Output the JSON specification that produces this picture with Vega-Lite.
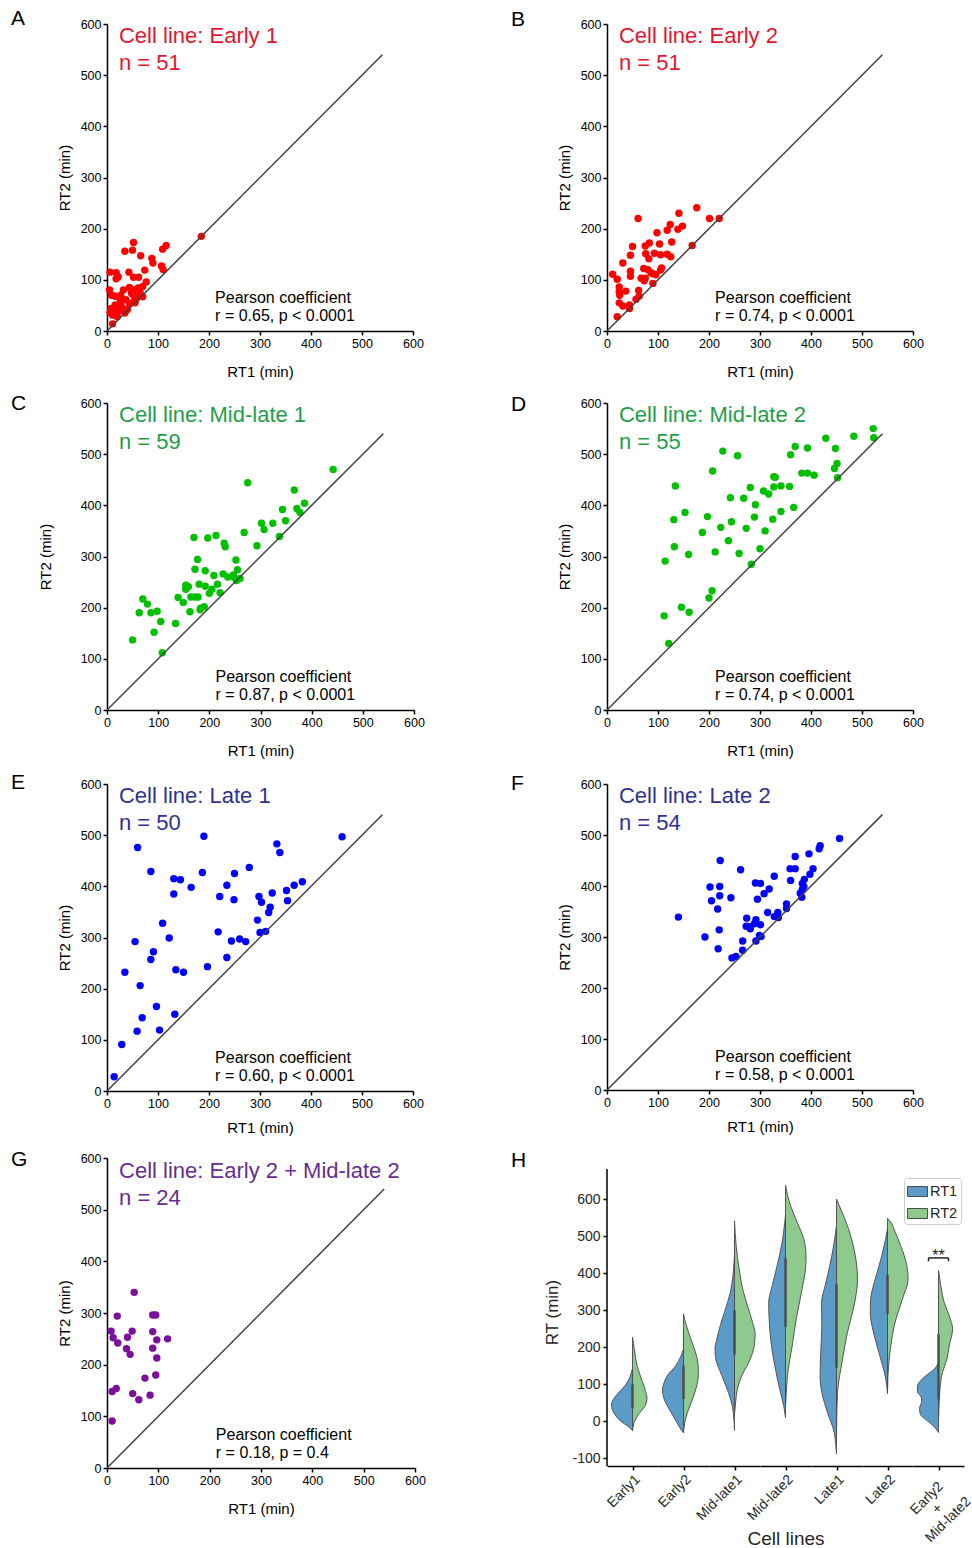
{
"$schema": "https://vega.github.io/schema/vega-lite/v6.json",
"padding": {"left": 11, "top": 8, "right": 0, "bottom": 0},
"background": "white",
"config": {
 "font": "Liberation Sans",
 "view": {"stroke": null},
 "axis": {"grid": false, "domainColor": "#000000", "domainWidth": 1.5, "tickColor": "#000000", "tickWidth": 1.5, "tickSize": 4, "labelFont": "Liberation Sans", "labelFontSize": 12.5, "labelColor": "#000000", "labelPadding": 2, "titleFont": "Liberation Sans", "titleFontSize": 15, "titleFontWeight": "normal", "titleColor": "#000000", "labelFlush": false, "labelOverlap": false},
 "title": {"font": "Liberation Sans", "fontWeight": "normal", "fontSize": 21, "color": "#000000", "anchor": "start", "frame": "group", "offset": 0, "baseline": "alphabetic"}
},
"datasets": {
 "A": [{"rt1":185,"rt2":185},{"rt1":52,"rt2":173},{"rt1":50,"rt2":158},{"rt1":35,"rt2":156},{"rt1":66,"rt2":147},{"rt1":116,"rt2":167},{"rt1":109,"rt2":160},{"rt1":88,"rt2":142},{"rt1":90,"rt2":133},{"rt1":107,"rt2":127},{"rt1":110,"rt2":120},{"rt1":74,"rt2":119},{"rt1":6,"rt2":115},{"rt1":18,"rt2":114},{"rt1":43,"rt2":115},{"rt1":18,"rt2":102},{"rt1":22,"rt2":106},{"rt1":52,"rt2":105},{"rt1":62,"rt2":105},{"rt1":77,"rt2":96},{"rt1":70,"rt2":87},{"rt1":44,"rt2":85},{"rt1":52,"rt2":80},{"rt1":65,"rt2":75},{"rt1":9,"rt2":70},{"rt1":16,"rt2":68},{"rt1":27,"rt2":70},{"rt1":52,"rt2":70},{"rt1":58,"rt2":64},{"rt1":70,"rt2":67},{"rt1":37,"rt2":61},{"rt1":44,"rt2":54},{"rt1":52,"rt2":57},{"rt1":16,"rt2":51},{"rt1":27,"rt2":51},{"rt1":31,"rt2":44},{"rt1":8,"rt2":44},{"rt1":18,"rt2":40},{"rt1":6,"rt2":36},{"rt1":11,"rt2":31},{"rt1":22,"rt2":38},{"rt1":35,"rt2":35},{"rt1":40,"rt2":42},{"rt1":55,"rt2":55},{"rt1":11,"rt2":14},{"rt1":26,"rt2":61},{"rt1":48,"rt2":74},{"rt1":61,"rt2":84},{"rt1":32,"rt2":80},{"rt1":5,"rt2":80},{"rt1":20,"rt2":28}],
 "B": [{"rt1":20,"rt2":28},{"rt1":11,"rt2":111},{"rt1":24,"rt2":86},{"rt1":24,"rt2":77},{"rt1":25,"rt2":70},{"rt1":24,"rt2":55},{"rt1":31,"rt2":49},{"rt1":44,"rt2":51},{"rt1":44,"rt2":44},{"rt1":57,"rt2":62},{"rt1":63,"rt2":68},{"rt1":62,"rt2":79},{"rt1":31,"rt2":133},{"rt1":46,"rt2":148},{"rt1":50,"rt2":165},{"rt1":46,"rt2":117},{"rt1":46,"rt2":107},{"rt1":61,"rt2":220},{"rt1":75,"rt2":166},{"rt1":83,"rt2":172},{"rt1":76,"rt2":151},{"rt1":82,"rt2":141},{"rt1":72,"rt2":122},{"rt1":80,"rt2":120},{"rt1":75,"rt2":103},{"rt1":73,"rt2":98},{"rt1":90,"rt2":112},{"rt1":96,"rt2":110},{"rt1":90,"rt2":93},{"rt1":93,"rt2":152},{"rt1":98,"rt2":192},{"rt1":103,"rt2":170},{"rt1":105,"rt2":149},{"rt1":105,"rt2":119},{"rt1":107,"rt2":123},{"rt1":118,"rt2":150},{"rt1":125,"rt2":145},{"rt1":127,"rt2":174},{"rt1":118,"rt2":197},{"rt1":124,"rt2":208},{"rt1":139,"rt2":199},{"rt1":148,"rt2":205},{"rt1":141,"rt2":230},{"rt1":176,"rt2":241},{"rt1":201,"rt2":220},{"rt1":220,"rt2":220},{"rt1":167,"rt2":167},{"rt1":37,"rt2":78},{"rt1":67,"rt2":103},{"rt1":86,"rt2":114},{"rt1":20,"rt2":101}],
 "C": [{"rt1":442,"rt2":470},{"rt1":275,"rt2":444},{"rt1":366,"rt2":430},{"rt1":386,"rt2":404},{"rt1":343,"rt2":392},{"rt1":371,"rt2":394},{"rt1":377,"rt2":386},{"rt1":349,"rt2":370},{"rt1":302,"rt2":365},{"rt1":324,"rt2":365},{"rt1":307,"rt2":353},{"rt1":268,"rt2":347},{"rt1":337,"rt2":339},{"rt1":293,"rt2":321},{"rt1":170,"rt2":337},{"rt1":197,"rt2":336},{"rt1":213,"rt2":341},{"rt1":229,"rt2":326},{"rt1":231,"rt2":319},{"rt1":252,"rt2":293},{"rt1":177,"rt2":294},{"rt1":172,"rt2":275},{"rt1":192,"rt2":272},{"rt1":209,"rt2":263},{"rt1":227,"rt2":266},{"rt1":236,"rt2":260},{"rt1":247,"rt2":260},{"rt1":255,"rt2":274},{"rt1":253,"rt2":253},{"rt1":180,"rt2":246},{"rt1":192,"rt2":242},{"rt1":216,"rt2":246},{"rt1":154,"rt2":244},{"rt1":154,"rt2":236},{"rt1":205,"rt2":236},{"rt1":200,"rt2":228},{"rt1":221,"rt2":229},{"rt1":139,"rt2":220},{"rt1":164,"rt2":221},{"rt1":172,"rt2":221},{"rt1":178,"rt2":221},{"rt1":149,"rt2":210},{"rt1":183,"rt2":199},{"rt1":190,"rt2":202},{"rt1":162,"rt2":192},{"rt1":70,"rt2":217},{"rt1":79,"rt2":207},{"rt1":63,"rt2":190},{"rt1":86,"rt2":190},{"rt1":98,"rt2":193},{"rt1":105,"rt2":173},{"rt1":134,"rt2":169},{"rt1":92,"rt2":152},{"rt1":50,"rt2":137},{"rt1":108,"rt2":112},{"rt1":182,"rt2":196},{"rt1":159,"rt2":241},{"rt1":260,"rt2":257},{"rt1":247,"rt2":264}],
 "D": [{"rt1":522,"rt2":550},{"rt1":523,"rt2":532},{"rt1":484,"rt2":535},{"rt1":429,"rt2":531},{"rt1":448,"rt2":511},{"rt1":369,"rt2":515},{"rt1":393,"rt2":512},{"rt1":360,"rt2":499},{"rt1":227,"rt2":506},{"rt1":256,"rt2":497},{"rt1":451,"rt2":482},{"rt1":446,"rt2":472},{"rt1":452,"rt2":454},{"rt1":382,"rt2":463},{"rt1":393,"rt2":463},{"rt1":406,"rt2":459},{"rt1":207,"rt2":467},{"rt1":327,"rt2":456},{"rt1":330,"rt2":455},{"rt1":327,"rt2":436},{"rt1":341,"rt2":438},{"rt1":358,"rt2":437},{"rt1":281,"rt2":435},{"rt1":307,"rt2":428},{"rt1":317,"rt2":422},{"rt1":242,"rt2":415},{"rt1":268,"rt2":414},{"rt1":291,"rt2":401},{"rt1":134,"rt2":438},{"rt1":153,"rt2":386},{"rt1":197,"rt2":378},{"rt1":289,"rt2":377},{"rt1":325,"rt2":373},{"rt1":341,"rt2":388},{"rt1":366,"rt2":396},{"rt1":244,"rt2":368},{"rt1":223,"rt2":357},{"rt1":273,"rt2":355},{"rt1":310,"rt2":350},{"rt1":131,"rt2":372},{"rt1":187,"rt2":347},{"rt1":238,"rt2":331},{"rt1":132,"rt2":319},{"rt1":160,"rt2":304},{"rt1":212,"rt2":309},{"rt1":259,"rt2":306},{"rt1":300,"rt2":315},{"rt1":283,"rt2":285},{"rt1":114,"rt2":291},{"rt1":206,"rt2":233},{"rt1":200,"rt2":219},{"rt1":146,"rt2":201},{"rt1":161,"rt2":191},{"rt1":112,"rt2":184},{"rt1":121,"rt2":130}],
 "E": [{"rt1":14,"rt2":28},{"rt1":29,"rt2":91},{"rt1":59,"rt2":117},{"rt1":69,"rt2":143},{"rt1":97,"rt2":165},{"rt1":103,"rt2":119},{"rt1":133,"rt2":150},{"rt1":65,"rt2":206},{"rt1":35,"rt2":232},{"rt1":86,"rt2":257},{"rt1":91,"rt2":272},{"rt1":55,"rt2":292},{"rt1":109,"rt2":328},{"rt1":122,"rt2":299},{"rt1":135,"rt2":237},{"rt1":150,"rt2":232},{"rt1":197,"rt2":243},{"rt1":218,"rt2":311},{"rt1":235,"rt2":261},{"rt1":244,"rt2":293},{"rt1":260,"rt2":297},{"rt1":272,"rt2":292},{"rt1":311,"rt2":312},{"rt1":295,"rt2":334},{"rt1":317,"rt2":349},{"rt1":320,"rt2":359},{"rt1":303,"rt2":369},{"rt1":298,"rt2":380},{"rt1":324,"rt2":387},{"rt1":352,"rt2":392},{"rt1":367,"rt2":402},{"rt1":383,"rt2":409},{"rt1":354,"rt2":372},{"rt1":249,"rt2":374},{"rt1":221,"rt2":380},{"rt1":235,"rt2":402},{"rt1":250,"rt2":425},{"rt1":279,"rt2":437},{"rt1":187,"rt2":427},{"rt1":165,"rt2":398},{"rt1":131,"rt2":415},{"rt1":144,"rt2":413},{"rt1":131,"rt2":385},{"rt1":86,"rt2":429},{"rt1":60,"rt2":476},{"rt1":190,"rt2":498},{"rt1":333,"rt2":483},{"rt1":339,"rt2":466},{"rt1":461,"rt2":497},{"rt1":300,"rt2":310}],
 "F": [{"rt1":140,"rt2":339},{"rt1":222,"rt2":450},{"rt1":262,"rt2":432},{"rt1":202,"rt2":398},{"rt1":221,"rt2":399},{"rt1":205,"rt2":371},{"rt1":221,"rt2":381},{"rt1":243,"rt2":377},{"rt1":217,"rt2":355},{"rt1":220,"rt2":314},{"rt1":192,"rt2":300},{"rt1":218,"rt2":277},{"rt1":245,"rt2":259},{"rt1":253,"rt2":262},{"rt1":266,"rt2":274},{"rt1":266,"rt2":292},{"rt1":274,"rt2":337},{"rt1":273,"rt2":321},{"rt1":281,"rt2":316},{"rt1":292,"rt2":334},{"rt1":301,"rt2":324},{"rt1":289,"rt2":326},{"rt1":299,"rt2":303},{"rt1":292,"rt2":292},{"rt1":291,"rt2":406},{"rt1":301,"rt2":405},{"rt1":295,"rt2":374},{"rt1":308,"rt2":385},{"rt1":318,"rt2":394},{"rt1":328,"rt2":419},{"rt1":315,"rt2":348},{"rt1":328,"rt2":340},{"rt1":335,"rt2":348},{"rt1":336,"rt2":338},{"rt1":352,"rt2":365},{"rt1":352,"rt2":356},{"rt1":360,"rt2":411},{"rt1":359,"rt2":434},{"rt1":369,"rt2":434},{"rt1":369,"rt2":458},{"rt1":396,"rt2":463},{"rt1":404,"rt2":434},{"rt1":398,"rt2":423},{"rt1":387,"rt2":413},{"rt1":383,"rt2":405},{"rt1":383,"rt2":393},{"rt1":382,"rt2":378},{"rt1":386,"rt2":399},{"rt1":418,"rt2":479},{"rt1":416,"rt2":473},{"rt1":456,"rt2":493},{"rt1":302,"rt2":301},{"rt1":279,"rt2":320},{"rt1":379,"rt2":386}],
 "G": [{"rt1":53,"rt2":340},{"rt1":20,"rt2":294},{"rt1":89,"rt2":296},{"rt1":95,"rt2":296},{"rt1":8,"rt2":265},{"rt1":49,"rt2":265},{"rt1":89,"rt2":264},{"rt1":12,"rt2":252},{"rt1":21,"rt2":242},{"rt1":40,"rt2":253},{"rt1":97,"rt2":248},{"rt1":118,"rt2":250},{"rt1":38,"rt2":231},{"rt1":45,"rt2":220},{"rt1":89,"rt2":232},{"rt1":97,"rt2":213},{"rt1":74,"rt2":174},{"rt1":95,"rt2":180},{"rt1":18,"rt2":154},{"rt1":10,"rt2":148},{"rt1":50,"rt2":144},{"rt1":62,"rt2":132},{"rt1":84,"rt2":141},{"rt1":10,"rt2":91}],
 "vio": [
  {"l":"Early1","v":"RT1","rt":-25,"d":0},{"l":"Early1","v":"RT1","rt":-12,"d":0.25},{"l":"Early1","v":"RT1","rt":0,"d":0.55},{"l":"Early1","v":"RT1","rt":15,"d":0.8},{"l":"Early1","v":"RT1","rt":30,"d":0.95},{"l":"Early1","v":"RT1","rt":45,"d":1.0},{"l":"Early1","v":"RT1","rt":60,"d":0.9},{"l":"Early1","v":"RT1","rt":75,"d":0.7},{"l":"Early1","v":"RT1","rt":90,"d":0.45},{"l":"Early1","v":"RT1","rt":105,"d":0.25},{"l":"Early1","v":"RT1","rt":120,"d":0.12},{"l":"Early1","v":"RT1","rt":135,"d":0.04},{"l":"Early1","v":"RT1","rt":142,"d":0},
  {"l":"Early1","v":"RT2","rt":-25,"d":0},{"l":"Early1","v":"RT2","rt":0,"d":0.1},{"l":"Early1","v":"RT2","rt":20,"d":0.3},{"l":"Early1","v":"RT2","rt":40,"d":0.58},{"l":"Early1","v":"RT2","rt":55,"d":0.68},{"l":"Early1","v":"RT2","rt":65,"d":0.69},{"l":"Early1","v":"RT2","rt":80,"d":0.62},{"l":"Early1","v":"RT2","rt":95,"d":0.55},{"l":"Early1","v":"RT2","rt":110,"d":0.45},{"l":"Early1","v":"RT2","rt":130,"d":0.33},{"l":"Early1","v":"RT2","rt":150,"d":0.22},{"l":"Early1","v":"RT2","rt":170,"d":0.15},{"l":"Early1","v":"RT2","rt":190,"d":0.1},{"l":"Early1","v":"RT2","rt":210,"d":0.05},{"l":"Early1","v":"RT2","rt":227,"d":0},
  {"l":"Early2","v":"RT1","rt":-31,"d":0},{"l":"Early2","v":"RT1","rt":-15,"d":0.2},{"l":"Early2","v":"RT1","rt":0,"d":0.35},{"l":"Early2","v":"RT1","rt":25,"d":0.6},{"l":"Early2","v":"RT1","rt":50,"d":0.85},{"l":"Early2","v":"RT1","rt":70,"d":0.97},{"l":"Early2","v":"RT1","rt":87,"d":1.0},{"l":"Early2","v":"RT1","rt":105,"d":0.92},{"l":"Early2","v":"RT1","rt":125,"d":0.75},{"l":"Early2","v":"RT1","rt":150,"d":0.37},{"l":"Early2","v":"RT1","rt":175,"d":0.13},{"l":"Early2","v":"RT1","rt":195,"d":0},
  {"l":"Early2","v":"RT2","rt":-31,"d":0},{"l":"Early2","v":"RT2","rt":0,"d":0.07},{"l":"Early2","v":"RT2","rt":24,"d":0.19},{"l":"Early2","v":"RT2","rt":60,"d":0.43},{"l":"Early2","v":"RT2","rt":96,"d":0.63},{"l":"Early2","v":"RT2","rt":132,"d":0.71},{"l":"Early2","v":"RT2","rt":160,"d":0.68},{"l":"Early2","v":"RT2","rt":190,"d":0.55},{"l":"Early2","v":"RT2","rt":222,"d":0.35},{"l":"Early2","v":"RT2","rt":258,"d":0.14},{"l":"Early2","v":"RT2","rt":275,"d":0.06},{"l":"Early2","v":"RT2","rt":290,"d":0},
  {"l":"Mid-late1","v":"RT1","rt":-25,"d":0},{"l":"Mid-late1","v":"RT1","rt":0,"d":0.02},{"l":"Mid-late1","v":"RT1","rt":40,"d":0.1},{"l":"Mid-late1","v":"RT1","rt":78,"d":0.29},{"l":"Mid-late1","v":"RT1","rt":123,"d":0.6},{"l":"Mid-late1","v":"RT1","rt":168,"d":0.89},{"l":"Mid-late1","v":"RT1","rt":195,"d":0.93},{"l":"Mid-late1","v":"RT1","rt":222,"d":0.84},{"l":"Mid-late1","v":"RT1","rt":258,"d":0.68},{"l":"Mid-late1","v":"RT1","rt":294,"d":0.48},{"l":"Mid-late1","v":"RT1","rt":348,"d":0.2},{"l":"Mid-late1","v":"RT1","rt":390,"d":0.08},{"l":"Mid-late1","v":"RT1","rt":430,"d":0.02},{"l":"Mid-late1","v":"RT1","rt":450,"d":0},
  {"l":"Mid-late1","v":"RT2","rt":20,"d":0},{"l":"Mid-late1","v":"RT2","rt":50,"d":0.05},{"l":"Mid-late1","v":"RT2","rt":90,"d":0.15},{"l":"Mid-late1","v":"RT2","rt":123,"d":0.35},{"l":"Mid-late1","v":"RT2","rt":168,"d":0.75},{"l":"Mid-late1","v":"RT2","rt":204,"d":0.94},{"l":"Mid-late1","v":"RT2","rt":236,"d":0.98},{"l":"Mid-late1","v":"RT2","rt":267,"d":0.86},{"l":"Mid-late1","v":"RT2","rt":303,"d":0.67},{"l":"Mid-late1","v":"RT2","rt":348,"d":0.43},{"l":"Mid-late1","v":"RT2","rt":411,"d":0.22},{"l":"Mid-late1","v":"RT2","rt":474,"d":0.08},{"l":"Mid-late1","v":"RT2","rt":541,"d":0},
  {"l":"Mid-late2","v":"RT1","rt":10,"d":0},{"l":"Mid-late2","v":"RT1","rt":40,"d":0.08},{"l":"Mid-late2","v":"RT1","rt":78,"d":0.24},{"l":"Mid-late2","v":"RT1","rt":150,"d":0.51},{"l":"Mid-late2","v":"RT1","rt":204,"d":0.67},{"l":"Mid-late2","v":"RT1","rt":258,"d":0.76},{"l":"Mid-late2","v":"RT1","rt":321,"d":0.8},{"l":"Mid-late2","v":"RT1","rt":366,"d":0.63},{"l":"Mid-late2","v":"RT1","rt":420,"d":0.4},{"l":"Mid-late2","v":"RT1","rt":483,"d":0.16},{"l":"Mid-late2","v":"RT1","rt":530,"d":0.05},{"l":"Mid-late2","v":"RT1","rt":555,"d":0},
  {"l":"Mid-late2","v":"RT2","rt":40,"d":0},{"l":"Mid-late2","v":"RT2","rt":90,"d":0.05},{"l":"Mid-late2","v":"RT2","rt":132,"d":0.11},{"l":"Mid-late2","v":"RT2","rt":204,"d":0.32},{"l":"Mid-late2","v":"RT2","rt":276,"d":0.51},{"l":"Mid-late2","v":"RT2","rt":348,"d":0.76},{"l":"Mid-late2","v":"RT2","rt":411,"d":0.95},{"l":"Mid-late2","v":"RT2","rt":447,"d":0.98},{"l":"Mid-late2","v":"RT2","rt":492,"d":0.87},{"l":"Mid-late2","v":"RT2","rt":537,"d":0.56},{"l":"Mid-late2","v":"RT2","rt":582,"d":0.24},{"l":"Mid-late2","v":"RT2","rt":610,"d":0.1},{"l":"Mid-late2","v":"RT2","rt":638,"d":0},
  {"l":"Late1","v":"RT1","rt":-88,"d":0},{"l":"Late1","v":"RT1","rt":-60,"d":0.04},{"l":"Late1","v":"RT1","rt":-30,"d":0.11},{"l":"Late1","v":"RT1","rt":24,"d":0.43},{"l":"Late1","v":"RT1","rt":78,"d":0.7},{"l":"Late1","v":"RT1","rt":123,"d":0.78},{"l":"Late1","v":"RT1","rt":186,"d":0.75},{"l":"Late1","v":"RT1","rt":258,"d":0.7},{"l":"Late1","v":"RT1","rt":321,"d":0.71},{"l":"Late1","v":"RT1","rt":366,"d":0.54},{"l":"Late1","v":"RT1","rt":420,"d":0.32},{"l":"Late1","v":"RT1","rt":483,"d":0.11},{"l":"Late1","v":"RT1","rt":528,"d":0},
  {"l":"Late1","v":"RT2","rt":-40,"d":0},{"l":"Late1","v":"RT2","rt":0,"d":0.01},{"l":"Late1","v":"RT2","rt":78,"d":0.05},{"l":"Late1","v":"RT2","rt":168,"d":0.29},{"l":"Late1","v":"RT2","rt":240,"d":0.52},{"l":"Late1","v":"RT2","rt":303,"d":0.8},{"l":"Late1","v":"RT2","rt":348,"d":0.95},{"l":"Late1","v":"RT2","rt":384,"d":1.0},{"l":"Late1","v":"RT2","rt":438,"d":0.92},{"l":"Late1","v":"RT2","rt":483,"d":0.76},{"l":"Late1","v":"RT2","rt":528,"d":0.52},{"l":"Late1","v":"RT2","rt":573,"d":0.2},{"l":"Late1","v":"RT2","rt":600,"d":0},
  {"l":"Late2","v":"RT1","rt":74,"d":0},{"l":"Late2","v":"RT1","rt":114,"d":0.08},{"l":"Late2","v":"RT1","rt":168,"d":0.32},{"l":"Late2","v":"RT1","rt":231,"d":0.63},{"l":"Late2","v":"RT1","rt":294,"d":0.82},{"l":"Late2","v":"RT1","rt":330,"d":0.8},{"l":"Late2","v":"RT1","rt":375,"d":0.63},{"l":"Late2","v":"RT1","rt":420,"d":0.4},{"l":"Late2","v":"RT1","rt":474,"d":0.16},{"l":"Late2","v":"RT1","rt":519,"d":0},
  {"l":"Late2","v":"RT2","rt":78,"d":0},{"l":"Late2","v":"RT2","rt":120,"d":0.02},{"l":"Late2","v":"RT2","rt":150,"d":0.05},{"l":"Late2","v":"RT2","rt":204,"d":0.16},{"l":"Late2","v":"RT2","rt":258,"d":0.32},{"l":"Late2","v":"RT2","rt":330,"d":0.71},{"l":"Late2","v":"RT2","rt":384,"d":0.98},{"l":"Late2","v":"RT2","rt":420,"d":0.92},{"l":"Late2","v":"RT2","rt":474,"d":0.63},{"l":"Late2","v":"RT2","rt":510,"d":0.37},{"l":"Late2","v":"RT2","rt":537,"d":0.16},{"l":"Late2","v":"RT2","rt":548,"d":0},
  {"l":"E2ML2","v":"RT1","rt":-30,"d":0},{"l":"E2ML2","v":"RT1","rt":-15,"d":0.2},{"l":"E2ML2","v":"RT1","rt":0,"d":0.5},{"l":"E2ML2","v":"RT1","rt":20,"d":0.87},{"l":"E2ML2","v":"RT1","rt":35,"d":0.9},{"l":"E2ML2","v":"RT1","rt":55,"d":0.8},{"l":"E2ML2","v":"RT1","rt":65,"d":0.82},{"l":"E2ML2","v":"RT1","rt":80,"d":1.0},{"l":"E2ML2","v":"RT1","rt":95,"d":1.0},{"l":"E2ML2","v":"RT1","rt":110,"d":0.85},{"l":"E2ML2","v":"RT1","rt":123,"d":0.6},{"l":"E2ML2","v":"RT1","rt":141,"d":0.2},{"l":"E2ML2","v":"RT1","rt":160,"d":0},
  {"l":"E2ML2","v":"RT2","rt":-5,"d":0},{"l":"E2ML2","v":"RT2","rt":78,"d":0.06},{"l":"E2ML2","v":"RT2","rt":132,"d":0.19},{"l":"E2ML2","v":"RT2","rt":168,"d":0.4},{"l":"E2ML2","v":"RT2","rt":204,"d":0.51},{"l":"E2ML2","v":"RT2","rt":249,"d":0.67},{"l":"E2ML2","v":"RT2","rt":285,"d":0.51},{"l":"E2ML2","v":"RT2","rt":321,"d":0.27},{"l":"E2ML2","v":"RT2","rt":366,"d":0.11},{"l":"E2ML2","v":"RT2","rt":407,"d":0}
 ],
 "box": [
  {"l":"Early1","lo":-15,"q1":35,"q3":100,"hi":140},
  {"l":"Early2","lo":-10,"q1":60,"q3":150,"hi":255},
  {"l":"Mid-late1","lo":40,"q1":180,"q3":300,"hi":470},
  {"l":"Mid-late2","lo":40,"q1":255,"q3":440,"hi":555},
  {"l":"Late1","lo":-40,"q1":145,"q3":370,"hi":520},
  {"l":"Late2","lo":80,"q1":290,"q3":395,"hi":520},
  {"l":"E2ML2","lo":20,"q1":60,"q3":235,"hi":340}
 ]
},
"columns": 2,
"align": "each",
"spacing": {"row": 13, "column": 85},
"resolve": {"scale": {"x": "independent", "y": "independent", "color": "independent"}, "legend": {"color": "independent"}},
"concat": [
 {"width": 306, "height": 307, "title": {"text": "A", "dx": -96, "dy": 15},
  "layer": [
   {"data": {"name": "A"}, "mark": {"type": "circle", "size": 55, "opacity": 1, "color": "#ff0000"},
    "encoding": {"x": {"field": "rt1", "type": "quantitative", "scale": {"domain": [0, 600], "nice": false}, "axis": {"values": [0,100,200,300,400,500,600], "title": "RT1 (min)", "titlePadding": 15}}, "y": {"field": "rt2", "type": "quantitative", "scale": {"domain": [0, 600], "nice": false}, "axis": {"values": [0,100,200,300,400,500,600], "title": "RT2 (min)", "titlePadding": 8}}}},
   {"data": {"values": [{}]}, "mark": {"type": "rule", "color": "#404040", "strokeWidth": 1.5},
    "encoding": {"x": {"datum": 0, "type": "quantitative"}, "y": {"datum": 0, "type": "quantitative"}, "x2": {"datum": 540}, "y2": {"datum": 540}}},
   {"data": {"values": [{}]}, "mark": {"type": "text", "align": "left", "baseline": "alphabetic", "fontSize": 22, "lineHeight": 27, "color": "#e6152d", "text": ["Cell line: Early 1", "n = 51"]},
    "encoding": {"x": {"datum": 23.5, "type": "quantitative"}, "y": {"datum": 562, "type": "quantitative"}}},
   {"data": {"values": [{}]}, "mark": {"type": "text", "align": "left", "baseline": "alphabetic", "fontSize": 16, "lineHeight": 18.5, "color": "#000000", "text": ["Pearson coefficient", "r = 0.65, p < 0.0001"]},
    "encoding": {"x": {"datum": 212, "type": "quantitative"}, "y": {"datum": 55, "type": "quantitative"}}}
  ]},
 {"width": 306, "height": 307, "title": {"text": "B", "dx": -96, "dy": 16},
  "layer": [
   {"data": {"name": "B"}, "mark": {"type": "circle", "size": 55, "opacity": 1, "color": "#ff0000"},
    "encoding": {"x": {"field": "rt1", "type": "quantitative", "scale": {"domain": [0, 600], "nice": false}, "axis": {"values": [0,100,200,300,400,500,600], "title": "RT1 (min)", "titlePadding": 15}}, "y": {"field": "rt2", "type": "quantitative", "scale": {"domain": [0, 600], "nice": false}, "axis": {"values": [0,100,200,300,400,500,600], "title": "RT2 (min)", "titlePadding": 8}}}},
   {"data": {"values": [{}]}, "mark": {"type": "rule", "color": "#404040", "strokeWidth": 1.5},
    "encoding": {"x": {"datum": 0, "type": "quantitative"}, "y": {"datum": 0, "type": "quantitative"}, "x2": {"datum": 540}, "y2": {"datum": 540}}},
   {"data": {"values": [{}]}, "mark": {"type": "text", "align": "left", "baseline": "alphabetic", "fontSize": 22, "lineHeight": 27, "color": "#e6152d", "text": ["Cell line: Early 2", "n = 51"]},
    "encoding": {"x": {"datum": 23.5, "type": "quantitative"}, "y": {"datum": 562, "type": "quantitative"}}},
   {"data": {"values": [{}]}, "mark": {"type": "text", "align": "left", "baseline": "alphabetic", "fontSize": 16, "lineHeight": 18.5, "color": "#000000", "text": ["Pearson coefficient", "r = 0.74, p < 0.0001"]},
    "encoding": {"x": {"datum": 212, "type": "quantitative"}, "y": {"datum": 55, "type": "quantitative"}}}
  ]},
 {"width": 307, "height": 307, "title": {"text": "C", "dx": -96, "dy": 21},
  "layer": [
   {"data": {"name": "C"}, "mark": {"type": "circle", "size": 55, "opacity": 1, "color": "#00c000"},
    "encoding": {"x": {"field": "rt1", "type": "quantitative", "scale": {"domain": [0, 600], "nice": false}, "axis": {"values": [0,100,200,300,400,500,600], "title": "RT1 (min)", "titlePadding": 15}}, "y": {"field": "rt2", "type": "quantitative", "scale": {"domain": [0, 600], "nice": false}, "axis": {"values": [0,100,200,300,400,500,600], "title": "RT2 (min)", "titlePadding": 27}}}},
   {"data": {"values": [{}]}, "mark": {"type": "rule", "color": "#404040", "strokeWidth": 1.5},
    "encoding": {"x": {"datum": 0, "type": "quantitative"}, "y": {"datum": 0, "type": "quantitative"}, "x2": {"datum": 540}, "y2": {"datum": 540}}},
   {"data": {"values": [{}]}, "mark": {"type": "text", "align": "left", "baseline": "alphabetic", "fontSize": 22, "lineHeight": 27, "color": "#1f9e49", "text": ["Cell line: Mid-late 1", "n = 59"]},
    "encoding": {"x": {"datum": 23.5, "type": "quantitative"}, "y": {"datum": 562, "type": "quantitative"}}},
   {"data": {"values": [{}]}, "mark": {"type": "text", "align": "left", "baseline": "alphabetic", "fontSize": 16, "lineHeight": 18.5, "color": "#000000", "text": ["Pearson coefficient", "r = 0.87, p < 0.0001"]},
    "encoding": {"x": {"datum": 212, "type": "quantitative"}, "y": {"datum": 55, "type": "quantitative"}}}
  ]},
 {"width": 306, "height": 307, "title": {"text": "D", "dx": -96, "dy": 22},
  "layer": [
   {"data": {"name": "D"}, "mark": {"type": "circle", "size": 55, "opacity": 1, "color": "#00c000"},
    "encoding": {"x": {"field": "rt1", "type": "quantitative", "scale": {"domain": [0, 600], "nice": false}, "axis": {"values": [0,100,200,300,400,500,600], "title": "RT1 (min)", "titlePadding": 15}}, "y": {"field": "rt2", "type": "quantitative", "scale": {"domain": [0, 600], "nice": false}, "axis": {"values": [0,100,200,300,400,500,600], "title": "RT2 (min)", "titlePadding": 8}}}},
   {"data": {"values": [{}]}, "mark": {"type": "rule", "color": "#404040", "strokeWidth": 1.5},
    "encoding": {"x": {"datum": 0, "type": "quantitative"}, "y": {"datum": 0, "type": "quantitative"}, "x2": {"datum": 540}, "y2": {"datum": 540}}},
   {"data": {"values": [{}]}, "mark": {"type": "text", "align": "left", "baseline": "alphabetic", "fontSize": 22, "lineHeight": 27, "color": "#1f9e49", "text": ["Cell line: Mid-late 2", "n = 55"]},
    "encoding": {"x": {"datum": 23.5, "type": "quantitative"}, "y": {"datum": 562, "type": "quantitative"}}},
   {"data": {"values": [{}]}, "mark": {"type": "text", "align": "left", "baseline": "alphabetic", "fontSize": 16, "lineHeight": 18.5, "color": "#000000", "text": ["Pearson coefficient", "r = 0.74, p < 0.0001"]},
    "encoding": {"x": {"datum": 212, "type": "quantitative"}, "y": {"datum": 55, "type": "quantitative"}}}
  ]},
 {"width": 306, "height": 307, "title": {"text": "E", "dx": -96, "dy": 19},
  "layer": [
   {"data": {"name": "E"}, "mark": {"type": "circle", "size": 55, "opacity": 1, "color": "#0000ff"},
    "encoding": {"x": {"field": "rt1", "type": "quantitative", "scale": {"domain": [0, 600], "nice": false}, "axis": {"values": [0,100,200,300,400,500,600], "title": "RT1 (min)", "titlePadding": 11}}, "y": {"field": "rt2", "type": "quantitative", "scale": {"domain": [0, 600], "nice": false}, "axis": {"values": [0,100,200,300,400,500,600], "title": "RT2 (min)", "titlePadding": 8}}}},
   {"data": {"values": [{}]}, "mark": {"type": "rule", "color": "#404040", "strokeWidth": 1.5},
    "encoding": {"x": {"datum": 0, "type": "quantitative"}, "y": {"datum": 0, "type": "quantitative"}, "x2": {"datum": 540}, "y2": {"datum": 540}}},
   {"data": {"values": [{}]}, "mark": {"type": "text", "align": "left", "baseline": "alphabetic", "fontSize": 22, "lineHeight": 27, "color": "#2e3192", "text": ["Cell line: Late 1", "n = 50"]},
    "encoding": {"x": {"datum": 23.5, "type": "quantitative"}, "y": {"datum": 562, "type": "quantitative"}}},
   {"data": {"values": [{}]}, "mark": {"type": "text", "align": "left", "baseline": "alphabetic", "fontSize": 16, "lineHeight": 18.5, "color": "#000000", "text": ["Pearson coefficient", "r = 0.60, p < 0.0001"]},
    "encoding": {"x": {"datum": 212, "type": "quantitative"}, "y": {"datum": 55, "type": "quantitative"}}}
  ]},
 {"width": 306, "height": 306, "title": {"text": "F", "dx": -96, "dy": 20},
  "layer": [
   {"data": {"name": "F"}, "mark": {"type": "circle", "size": 55, "opacity": 1, "color": "#0000ff"},
    "encoding": {"x": {"field": "rt1", "type": "quantitative", "scale": {"domain": [0, 600], "nice": false}, "axis": {"values": [0,100,200,300,400,500,600], "title": "RT1 (min)", "titlePadding": 11}}, "y": {"field": "rt2", "type": "quantitative", "scale": {"domain": [0, 600], "nice": false}, "axis": {"values": [0,100,200,300,400,500,600], "title": "RT2 (min)", "titlePadding": 8}}}},
   {"data": {"values": [{}]}, "mark": {"type": "rule", "color": "#404040", "strokeWidth": 1.5},
    "encoding": {"x": {"datum": 0, "type": "quantitative"}, "y": {"datum": 0, "type": "quantitative"}, "x2": {"datum": 540}, "y2": {"datum": 540}}},
   {"data": {"values": [{}]}, "mark": {"type": "text", "align": "left", "baseline": "alphabetic", "fontSize": 22, "lineHeight": 27, "color": "#2e3192", "text": ["Cell line: Late 2", "n = 54"]},
    "encoding": {"x": {"datum": 23.5, "type": "quantitative"}, "y": {"datum": 562, "type": "quantitative"}}},
   {"data": {"values": [{}]}, "mark": {"type": "text", "align": "left", "baseline": "alphabetic", "fontSize": 16, "lineHeight": 18.5, "color": "#000000", "text": ["Pearson coefficient", "r = 0.58, p < 0.0001"]},
    "encoding": {"x": {"datum": 212, "type": "quantitative"}, "y": {"datum": 55, "type": "quantitative"}}}
  ]},
 {"width": 308, "height": 310, "title": {"text": "G", "dx": -96, "dy": 22},
  "layer": [
   {"data": {"name": "G"}, "mark": {"type": "circle", "size": 55, "opacity": 1, "color": "#7b0f9e"},
    "encoding": {"x": {"field": "rt1", "type": "quantitative", "scale": {"domain": [0, 600], "nice": false}, "axis": {"values": [0,100,200,300,400,500,600], "title": "RT1 (min)", "titlePadding": 15}}, "y": {"field": "rt2", "type": "quantitative", "scale": {"domain": [0, 600], "nice": false}, "axis": {"values": [0,100,200,300,400,500,600], "title": "RT2 (min)", "titlePadding": 8}}}},
   {"data": {"values": [{}]}, "mark": {"type": "rule", "color": "#404040", "strokeWidth": 1.5},
    "encoding": {"x": {"datum": 0, "type": "quantitative"}, "y": {"datum": 0, "type": "quantitative"}, "x2": {"datum": 540}, "y2": {"datum": 540}}},
   {"data": {"values": [{}]}, "mark": {"type": "text", "align": "left", "baseline": "alphabetic", "fontSize": 22, "lineHeight": 27, "color": "#662d91", "text": ["Cell line: Early 2 + Mid-late 2", "n = 24"]},
    "encoding": {"x": {"datum": 23.5, "type": "quantitative"}, "y": {"datum": 562, "type": "quantitative"}}},
   {"data": {"values": [{}]}, "mark": {"type": "text", "align": "left", "baseline": "alphabetic", "fontSize": 16, "lineHeight": 18.5, "color": "#000000", "text": ["Pearson coefficient", "r = 0.18, p = 0.4"]},
    "encoding": {"x": {"datum": 212, "type": "quantitative"}, "y": {"datum": 55, "type": "quantitative"}}}
  ]},
 {"title": {"text": "H", "dx": -96, "dy": 17},
  "spacing": 0,
  "bounds": "flush",
  "resolve": {"scale": {"x": "independent", "y": "independent", "color": "independent"}, "legend": {"color": "independent"}},
  "hconcat": [
   {"width": 51, "height": 308,
    "layer": [
     {"data": {"name": "vio"}, "transform": [{"filter": "datum.l == 'Early1' && datum.v == 'RT1'"}],
      "mark": {"type": "area", "orient": "horizontal", "interpolate": "monotone", "stroke": "#555555", "strokeWidth": 1},
      "encoding": {"y": {"field": "rt", "type": "quantitative", "scale": {"domain": [-120.6, 710.7], "nice": false, "zero": false}, "axis": {"values": [-100,0,100,200,300,400,500,600], "labelExpr": "'' + datum.value", "domain": false, "title": "RT (min)", "titleFontSize": 17, "titlePadding": 10, "labelFontSize": 14, "labelColor": "#262626", "titleColor": "#262626", "labelPadding": 3}},
       "x": {"field": "d", "type": "quantitative", "stack": null, "scale": {"domain": [-1.214, 1.214], "reverse": true, "nice": false, "zero": false}, "axis": {"values": [0], "labelExpr": "'Early1'", "labelAngle": -45, "labelAlign": "right", "labelBaseline": "top", "labelFontSize": 14, "labelColor": "#262626", "title": null}},
       "x2": {"datum": 0},
       "color": {"field": "v", "type": "nominal", "scale": {"domain": ["RT1", "RT2"], "range": ["#5b9bc8", "#8ec98e"]}, "legend": null}}},
     {"data": {"name": "vio"}, "transform": [{"filter": "datum.l == 'Early1' && datum.v == 'RT2'"}],
      "mark": {"type": "area", "orient": "horizontal", "interpolate": "monotone", "stroke": "#555555", "strokeWidth": 1},
      "encoding": {"y": {"field": "rt", "type": "quantitative"},
       "x": {"field": "d", "type": "quantitative", "stack": null, "scale": {"domain": [-1.214, 1.214], "nice": false, "zero": false}, "axis": null},
       "x2": {"datum": 0},
       "color": {"field": "v", "type": "nominal", "scale": {"domain": ["RT1", "RT2"], "range": ["#5b9bc8", "#8ec98e"]}, "legend": null}}},
     {"data": {"name": "box"}, "transform": [{"filter": "datum.l == 'Early1'"}], "mark": {"type": "rule", "color": "#4d4d4d", "strokeWidth": 1},
      "encoding": {"x": {"datum": 0, "type": "quantitative", "scale": {"domain": [-1.214, 1.214]}, "axis": null}, "y": {"field": "lo", "type": "quantitative"}, "y2": {"field": "hi"}}},
     {"data": {"name": "box"}, "transform": [{"filter": "datum.l == 'Early1'"}], "mark": {"type": "rule", "color": "#4d4d4d", "strokeWidth": 2.5},
      "encoding": {"x": {"datum": 0, "type": "quantitative", "scale": {"domain": [-1.214, 1.214]}, "axis": null}, "y": {"field": "q1", "type": "quantitative"}, "y2": {"field": "q3"}}},
     {"data": {"values": [{}]}, "mark": {"type": "rule", "color": "#000000", "strokeWidth": 1.5},
      "encoding": {"x": {"datum": 1.214, "type": "quantitative", "scale": {"domain": [-1.214, 1.214], "reverse": true, "nice": false, "zero": false}, "axis": null}, "y": {"datum": -120.6, "type": "quantitative"}, "y2": {"datum": 681}}}
    ],
    "resolve": {"scale": {"x": "independent"}}},
   {"width": 51, "height": 308,
    "layer": [
     {"data": {"name": "vio"}, "transform": [{"filter": "datum.l == 'Early2' && datum.v == 'RT1'"}],
      "mark": {"type": "area", "orient": "horizontal", "interpolate": "monotone", "stroke": "#555555", "strokeWidth": 1},
      "encoding": {"y": {"field": "rt", "type": "quantitative", "scale": {"domain": [-120.6, 710.7], "nice": false, "zero": false}, "axis": null},
       "x": {"field": "d", "type": "quantitative", "stack": null, "scale": {"domain": [-1.214, 1.214], "reverse": true, "nice": false, "zero": false}, "axis": {"values": [0], "labelExpr": "'Early2'", "labelAngle": -45, "labelAlign": "right", "labelBaseline": "top", "labelFontSize": 14, "labelColor": "#262626", "title": null}},
       "x2": {"datum": 0},
       "color": {"field": "v", "type": "nominal", "scale": {"domain": ["RT1", "RT2"], "range": ["#5b9bc8", "#8ec98e"]}, "legend": null}}},
     {"data": {"name": "vio"}, "transform": [{"filter": "datum.l == 'Early2' && datum.v == 'RT2'"}],
      "mark": {"type": "area", "orient": "horizontal", "interpolate": "monotone", "stroke": "#555555", "strokeWidth": 1},
      "encoding": {"y": {"field": "rt", "type": "quantitative", "axis": null},
       "x": {"field": "d", "type": "quantitative", "stack": null, "scale": {"domain": [-1.214, 1.214], "nice": false, "zero": false}, "axis": null},
       "x2": {"datum": 0},
       "color": {"field": "v", "type": "nominal", "scale": {"domain": ["RT1", "RT2"], "range": ["#5b9bc8", "#8ec98e"]}, "legend": null}}},
     {"data": {"name": "box"}, "transform": [{"filter": "datum.l == 'Early2'"}], "mark": {"type": "rule", "color": "#4d4d4d", "strokeWidth": 1},
      "encoding": {"x": {"datum": 0, "type": "quantitative", "scale": {"domain": [-1.214, 1.214]}, "axis": null}, "y": {"field": "lo", "type": "quantitative", "axis": null}, "y2": {"field": "hi"}}},
     {"data": {"name": "box"}, "transform": [{"filter": "datum.l == 'Early2'"}], "mark": {"type": "rule", "color": "#4d4d4d", "strokeWidth": 2.5},
      "encoding": {"x": {"datum": 0, "type": "quantitative", "scale": {"domain": [-1.214, 1.214]}, "axis": null}, "y": {"field": "q1", "type": "quantitative", "axis": null}, "y2": {"field": "q3"}}}
    ],
    "resolve": {"scale": {"x": "independent"}}},
   {"width": 51, "height": 308,
    "layer": [
     {"data": {"name": "vio"}, "transform": [{"filter": "datum.l == 'Mid-late1' && datum.v == 'RT1'"}],
      "mark": {"type": "area", "orient": "horizontal", "interpolate": "monotone", "stroke": "#555555", "strokeWidth": 1},
      "encoding": {"y": {"field": "rt", "type": "quantitative", "scale": {"domain": [-120.6, 710.7], "nice": false, "zero": false}, "axis": null},
       "x": {"field": "d", "type": "quantitative", "stack": null, "scale": {"domain": [-1.214, 1.214], "reverse": true, "nice": false, "zero": false}, "axis": {"values": [0], "labelExpr": "'Mid-late1'", "labelAngle": -45, "labelAlign": "right", "labelBaseline": "top", "labelFontSize": 14, "labelColor": "#262626", "title": null}},
       "x2": {"datum": 0},
       "color": {"field": "v", "type": "nominal", "scale": {"domain": ["RT1", "RT2"], "range": ["#5b9bc8", "#8ec98e"]}, "legend": null}}},
     {"data": {"name": "vio"}, "transform": [{"filter": "datum.l == 'Mid-late1' && datum.v == 'RT2'"}],
      "mark": {"type": "area", "orient": "horizontal", "interpolate": "monotone", "stroke": "#555555", "strokeWidth": 1},
      "encoding": {"y": {"field": "rt", "type": "quantitative", "axis": null},
       "x": {"field": "d", "type": "quantitative", "stack": null, "scale": {"domain": [-1.214, 1.214], "nice": false, "zero": false}, "axis": null},
       "x2": {"datum": 0},
       "color": {"field": "v", "type": "nominal", "scale": {"domain": ["RT1", "RT2"], "range": ["#5b9bc8", "#8ec98e"]}, "legend": null}}},
     {"data": {"name": "box"}, "transform": [{"filter": "datum.l == 'Mid-late1'"}], "mark": {"type": "rule", "color": "#4d4d4d", "strokeWidth": 1},
      "encoding": {"x": {"datum": 0, "type": "quantitative", "scale": {"domain": [-1.214, 1.214]}, "axis": null}, "y": {"field": "lo", "type": "quantitative", "axis": null}, "y2": {"field": "hi"}}},
     {"data": {"name": "box"}, "transform": [{"filter": "datum.l == 'Mid-late1'"}], "mark": {"type": "rule", "color": "#4d4d4d", "strokeWidth": 2.5},
      "encoding": {"x": {"datum": 0, "type": "quantitative", "scale": {"domain": [-1.214, 1.214]}, "axis": null}, "y": {"field": "q1", "type": "quantitative", "axis": null}, "y2": {"field": "q3"}}}
    ],
    "resolve": {"scale": {"x": "independent"}}},
   {"width": 51, "height": 308,
    "layer": [
     {"data": {"name": "vio"}, "transform": [{"filter": "datum.l == 'Mid-late2' && datum.v == 'RT1'"}],
      "mark": {"type": "area", "orient": "horizontal", "interpolate": "monotone", "stroke": "#555555", "strokeWidth": 1},
      "encoding": {"y": {"field": "rt", "type": "quantitative", "scale": {"domain": [-120.6, 710.7], "nice": false, "zero": false}, "axis": null},
       "x": {"field": "d", "type": "quantitative", "stack": null, "scale": {"domain": [-1.214, 1.214], "reverse": true, "nice": false, "zero": false}, "axis": {"values": [0], "labelExpr": "'Mid-late2'", "labelAngle": -45, "labelAlign": "right", "labelBaseline": "top", "labelFontSize": 14, "labelColor": "#262626", "title": "Cell lines", "titleFontSize": 19, "titlePadding": 7, "titleColor": "#262626"}},
       "x2": {"datum": 0},
       "color": {"field": "v", "type": "nominal", "scale": {"domain": ["RT1", "RT2"], "range": ["#5b9bc8", "#8ec98e"]}, "legend": null}}},
     {"data": {"name": "vio"}, "transform": [{"filter": "datum.l == 'Mid-late2' && datum.v == 'RT2'"}],
      "mark": {"type": "area", "orient": "horizontal", "interpolate": "monotone", "stroke": "#555555", "strokeWidth": 1},
      "encoding": {"y": {"field": "rt", "type": "quantitative", "axis": null},
       "x": {"field": "d", "type": "quantitative", "stack": null, "scale": {"domain": [-1.214, 1.214], "nice": false, "zero": false}, "axis": null},
       "x2": {"datum": 0},
       "color": {"field": "v", "type": "nominal", "scale": {"domain": ["RT1", "RT2"], "range": ["#5b9bc8", "#8ec98e"]}, "legend": null}}},
     {"data": {"name": "box"}, "transform": [{"filter": "datum.l == 'Mid-late2'"}], "mark": {"type": "rule", "color": "#4d4d4d", "strokeWidth": 1},
      "encoding": {"x": {"datum": 0, "type": "quantitative", "scale": {"domain": [-1.214, 1.214]}, "axis": null}, "y": {"field": "lo", "type": "quantitative", "axis": null}, "y2": {"field": "hi"}}},
     {"data": {"name": "box"}, "transform": [{"filter": "datum.l == 'Mid-late2'"}], "mark": {"type": "rule", "color": "#4d4d4d", "strokeWidth": 2.5},
      "encoding": {"x": {"datum": 0, "type": "quantitative", "scale": {"domain": [-1.214, 1.214]}, "axis": null}, "y": {"field": "q1", "type": "quantitative", "axis": null}, "y2": {"field": "q3"}}}
    ],
    "resolve": {"scale": {"x": "independent"}}},
   {"width": 51, "height": 308,
    "layer": [
     {"data": {"name": "vio"}, "transform": [{"filter": "datum.l == 'Late1' && datum.v == 'RT1'"}],
      "mark": {"type": "area", "orient": "horizontal", "interpolate": "monotone", "stroke": "#555555", "strokeWidth": 1},
      "encoding": {"y": {"field": "rt", "type": "quantitative", "scale": {"domain": [-120.6, 710.7], "nice": false, "zero": false}, "axis": null},
       "x": {"field": "d", "type": "quantitative", "stack": null, "scale": {"domain": [-1.214, 1.214], "reverse": true, "nice": false, "zero": false}, "axis": {"values": [0], "labelExpr": "'Late1'", "labelAngle": -45, "labelAlign": "right", "labelBaseline": "top", "labelFontSize": 14, "labelColor": "#262626", "title": null}},
       "x2": {"datum": 0},
       "color": {"field": "v", "type": "nominal", "scale": {"domain": ["RT1", "RT2"], "range": ["#5b9bc8", "#8ec98e"]}, "legend": null}}},
     {"data": {"name": "vio"}, "transform": [{"filter": "datum.l == 'Late1' && datum.v == 'RT2'"}],
      "mark": {"type": "area", "orient": "horizontal", "interpolate": "monotone", "stroke": "#555555", "strokeWidth": 1},
      "encoding": {"y": {"field": "rt", "type": "quantitative", "axis": null},
       "x": {"field": "d", "type": "quantitative", "stack": null, "scale": {"domain": [-1.214, 1.214], "nice": false, "zero": false}, "axis": null},
       "x2": {"datum": 0},
       "color": {"field": "v", "type": "nominal", "scale": {"domain": ["RT1", "RT2"], "range": ["#5b9bc8", "#8ec98e"]}, "legend": null}}},
     {"data": {"name": "box"}, "transform": [{"filter": "datum.l == 'Late1'"}], "mark": {"type": "rule", "color": "#4d4d4d", "strokeWidth": 1},
      "encoding": {"x": {"datum": 0, "type": "quantitative", "scale": {"domain": [-1.214, 1.214]}, "axis": null}, "y": {"field": "lo", "type": "quantitative", "axis": null}, "y2": {"field": "hi"}}},
     {"data": {"name": "box"}, "transform": [{"filter": "datum.l == 'Late1'"}], "mark": {"type": "rule", "color": "#4d4d4d", "strokeWidth": 2.5},
      "encoding": {"x": {"datum": 0, "type": "quantitative", "scale": {"domain": [-1.214, 1.214]}, "axis": null}, "y": {"field": "q1", "type": "quantitative", "axis": null}, "y2": {"field": "q3"}}}
    ],
    "resolve": {"scale": {"x": "independent"}}},
   {"width": 51, "height": 308,
    "layer": [
     {"data": {"name": "vio"}, "transform": [{"filter": "datum.l == 'Late2' && datum.v == 'RT1'"}],
      "mark": {"type": "area", "orient": "horizontal", "interpolate": "monotone", "stroke": "#555555", "strokeWidth": 1},
      "encoding": {"y": {"field": "rt", "type": "quantitative", "scale": {"domain": [-120.6, 710.7], "nice": false, "zero": false}, "axis": null},
       "x": {"field": "d", "type": "quantitative", "stack": null, "scale": {"domain": [-1.214, 1.214], "reverse": true, "nice": false, "zero": false}, "axis": {"values": [0], "labelExpr": "'Late2'", "labelAngle": -45, "labelAlign": "right", "labelBaseline": "top", "labelFontSize": 14, "labelColor": "#262626", "title": null}},
       "x2": {"datum": 0},
       "color": {"field": "v", "type": "nominal", "scale": {"domain": ["RT1", "RT2"], "range": ["#5b9bc8", "#8ec98e"]}, "legend": null}}},
     {"data": {"name": "vio"}, "transform": [{"filter": "datum.l == 'Late2' && datum.v == 'RT2'"}],
      "mark": {"type": "area", "orient": "horizontal", "interpolate": "monotone", "stroke": "#555555", "strokeWidth": 1},
      "encoding": {"y": {"field": "rt", "type": "quantitative", "axis": null},
       "x": {"field": "d", "type": "quantitative", "stack": null, "scale": {"domain": [-1.214, 1.214], "nice": false, "zero": false}, "axis": null},
       "x2": {"datum": 0},
       "color": {"field": "v", "type": "nominal", "scale": {"domain": ["RT1", "RT2"], "range": ["#5b9bc8", "#8ec98e"]}, "legend": null}}},
     {"data": {"name": "box"}, "transform": [{"filter": "datum.l == 'Late2'"}], "mark": {"type": "rule", "color": "#4d4d4d", "strokeWidth": 1},
      "encoding": {"x": {"datum": 0, "type": "quantitative", "scale": {"domain": [-1.214, 1.214]}, "axis": null}, "y": {"field": "lo", "type": "quantitative", "axis": null}, "y2": {"field": "hi"}}},
     {"data": {"name": "box"}, "transform": [{"filter": "datum.l == 'Late2'"}], "mark": {"type": "rule", "color": "#4d4d4d", "strokeWidth": 2.5},
      "encoding": {"x": {"datum": 0, "type": "quantitative", "scale": {"domain": [-1.214, 1.214]}, "axis": null}, "y": {"field": "q1", "type": "quantitative", "axis": null}, "y2": {"field": "q3"}}}
    ],
    "resolve": {"scale": {"x": "independent"}}},
   {"width": 51, "height": 308,
    "layer": [
     {"data": {"name": "vio"}, "transform": [{"filter": "datum.l == 'E2ML2' && datum.v == 'RT1'"}],
      "mark": {"type": "area", "orient": "horizontal", "interpolate": "monotone", "stroke": "#555555", "strokeWidth": 1},
      "encoding": {"y": {"field": "rt", "type": "quantitative", "scale": {"domain": [-120.6, 710.7], "nice": false, "zero": false}, "axis": null},
       "x": {"field": "d", "type": "quantitative", "stack": null, "scale": {"domain": [-1.214, 1.214], "reverse": true, "nice": false, "zero": false}, "axis": {"values": [0], "labelExpr": "['Early2', '+', 'Mid-late2']", "labelAngle": -45, "labelAlign": "center", "labelBaseline": "middle", "labelLineHeight": 15, "labelOffset": -12, "labelPadding": 28, "labelFontSize": 14, "labelColor": "#262626", "title": null}},
       "x2": {"datum": 0},
       "color": {"field": "v", "type": "nominal", "scale": {"domain": ["RT1", "RT2"], "range": ["#5b9bc8", "#8ec98e"]}, "legend": {"title": null, "orient": "none", "legendX": -9, "legendY": 20, "symbolType": "M-1,-0.5H1V0.5H-1Z", "symbolSize": 400, "symbolStrokeColor": "#4d4d4d", "symbolStrokeWidth": 1, "labelFontSize": 14.5, "labelColor": "#262626", "labelOffset": 2, "rowPadding": 4, "padding": 3, "strokeColor": "#cccccc", "fillColor": "#ffffff", "cornerRadius": 3}}}},
     {"data": {"name": "vio"}, "transform": [{"filter": "datum.l == 'E2ML2' && datum.v == 'RT2'"}],
      "mark": {"type": "area", "orient": "horizontal", "interpolate": "monotone", "stroke": "#555555", "strokeWidth": 1},
      "encoding": {"y": {"field": "rt", "type": "quantitative", "axis": null},
       "x": {"field": "d", "type": "quantitative", "stack": null, "scale": {"domain": [-1.214, 1.214], "nice": false, "zero": false}, "axis": null},
       "x2": {"datum": 0},
       "color": {"field": "v", "type": "nominal", "scale": {"domain": ["RT1", "RT2"], "range": ["#5b9bc8", "#8ec98e"]}, "legend": {"title": null, "orient": "none", "legendX": -9, "legendY": 20, "symbolType": "M-1,-0.5H1V0.5H-1Z", "symbolSize": 400, "symbolStrokeColor": "#4d4d4d", "symbolStrokeWidth": 1, "labelFontSize": 14.5, "labelColor": "#262626", "labelOffset": 2, "rowPadding": 4, "padding": 3, "strokeColor": "#cccccc", "fillColor": "#ffffff", "cornerRadius": 3}}}},
     {"data": {"name": "box"}, "transform": [{"filter": "datum.l == 'E2ML2'"}], "mark": {"type": "rule", "color": "#4d4d4d", "strokeWidth": 1},
      "encoding": {"x": {"datum": 0, "type": "quantitative", "scale": {"domain": [-1.214, 1.214]}, "axis": null}, "y": {"field": "lo", "type": "quantitative", "axis": null}, "y2": {"field": "hi"}}},
     {"data": {"name": "box"}, "transform": [{"filter": "datum.l == 'E2ML2'"}], "mark": {"type": "rule", "color": "#4d4d4d", "strokeWidth": 2.5},
      "encoding": {"x": {"datum": 0, "type": "quantitative", "scale": {"domain": [-1.214, 1.214]}, "axis": null}, "y": {"field": "q1", "type": "quantitative", "axis": null}, "y2": {"field": "q3"}}},
     {"data": {"values": [{}]}, "mark": {"type": "rule", "color": "#222222", "strokeWidth": 1.5},
      "encoding": {"x": {"datum": -0.476, "type": "quantitative", "scale": {"domain": [-1.214, 1.214]}, "axis": null}, "x2": {"datum": 0.476}, "y": {"datum": 441, "type": "quantitative", "axis": null}}},
     {"data": {"values": [{}]}, "mark": {"type": "rule", "color": "#222222", "strokeWidth": 1.5},
      "encoding": {"x": {"datum": -0.476, "type": "quantitative", "scale": {"domain": [-1.214, 1.214]}, "axis": null}, "y": {"datum": 432, "type": "quantitative", "axis": null}, "y2": {"datum": 441}}},
     {"data": {"values": [{}]}, "mark": {"type": "rule", "color": "#222222", "strokeWidth": 1.5},
      "encoding": {"x": {"datum": 0.476, "type": "quantitative", "scale": {"domain": [-1.214, 1.214]}, "axis": null}, "y": {"datum": 432, "type": "quantitative", "axis": null}, "y2": {"datum": 441}}},
     {"data": {"values": [{}]}, "mark": {"type": "text", "align": "center", "baseline": "middle", "fontSize": 16, "color": "#222222", "text": "**"},
      "encoding": {"x": {"datum": 0, "type": "quantitative", "scale": {"domain": [-1.214, 1.214]}, "axis": null}, "y": {"datum": 447, "type": "quantitative", "axis": null}}}
    ],
    "resolve": {"scale": {"x": "independent"}}}
  ]}
]
}
